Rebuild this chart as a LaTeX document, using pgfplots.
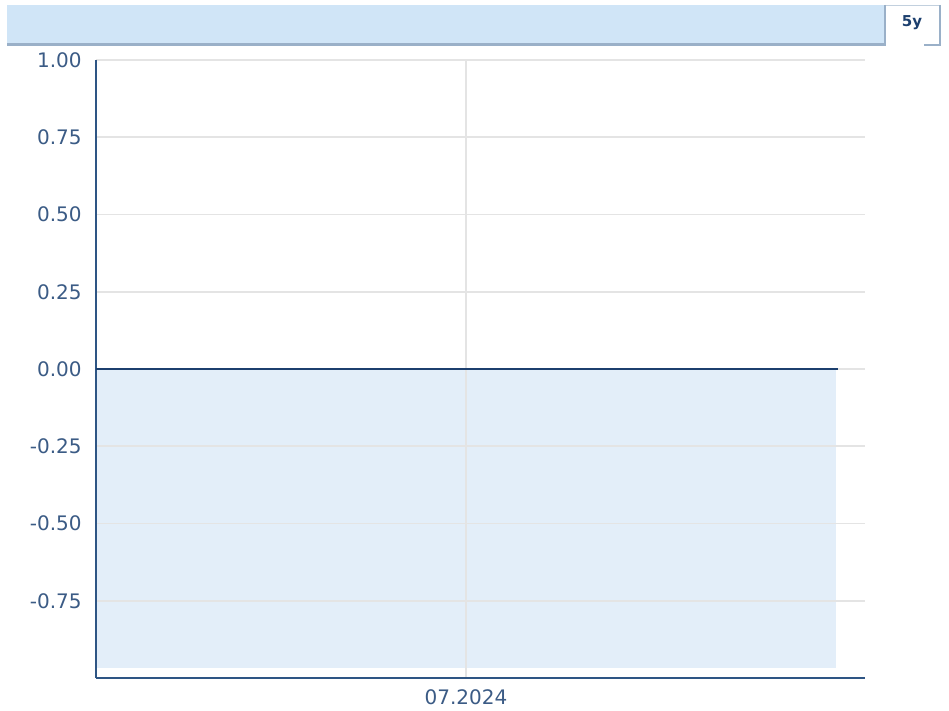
\documentclass[border=0pt]{standalone}
\usepackage{pgfplots}
\pgfplotsset{compat=1.18}
\usepackage{fontspec}
\setmainfont{DejaVu Sans}
\definecolor{barblue}{HTML}{D0E5F7}
\definecolor{barborder}{HTML}{9AB0C8}
\definecolor{fillblue}{HTML}{E3EEF9}
\definecolor{axisblue}{HTML}{2E5584}
\definecolor{lineblue}{HTML}{1C3F6E}
\definecolor{textblue}{HTML}{3B5B85}
\definecolor{gridgrey}{HTML}{E4E4E4}
\begin{document}
\begin{tikzpicture}
\path (0,0) rectangle (474.5pt,-355.5pt);
% top bar
\fill[barblue] (3.5pt,-2.5pt) rectangle (442.5pt,-22.5pt);
\draw[barborder, line width=1.5pt] (3.5pt,-22.5pt) -- (442.5pt,-22.5pt);
\draw[barborder, line width=1pt] (442.5pt,-2.5pt) -- (442.5pt,-23pt);
\fill[white] (443pt,-2.5pt) rectangle (470pt,-22.5pt);
\draw[barborder!60, line width=0.5pt] (443pt,-2.75pt) -- (469.75pt,-2.75pt);
\draw[barborder, line width=1pt] (470pt,-2.5pt) -- (470pt,-23pt);
\draw[barborder, line width=1pt] (462pt,-22.5pt) -- (470.5pt,-22.5pt);
\node[font=\bfseries\fontsize{7.5}{8}\selectfont, text=lineblue, inner sep=0pt] at (456pt,-11.5pt) {5y};
\begin{axis}[
  at={(48pt,-339pt)}, anchor=south west,
  scale only axis, width=384.5pt, height=309pt,
  set layers=standard,
  xmin=0, xmax=1.0392, ymin=-1, ymax=1,
  axis x line*=bottom, axis y line*=left,
  axis line style={color=axisblue, line width=1pt},
  xtick={0.5}, xticklabels={07.2024},
  ytick={-0.75,-0.5,-0.25,0,0.25,0.5,0.75,1},
  yticklabels={-0.75,-0.50,-0.25,0.00,0.25,0.50,0.75,1.00},
  major tick length=0pt,
  grid=major,
  major grid style={color=gridgrey, line width=0.85pt},
  tick label style={font=\fontsize{10}{12}\selectfont, text=textblue},
  yticklabel style={inner sep=0pt, xshift=-7pt},
  xticklabel style={inner sep=0pt, yshift=-5.5pt},
  /pgf/number format/assume math mode=true,
]
\addplot[on layer=axis background, fill=fillblue, draw=none] coordinates {(0,0) (1,0) (1,-0.967) (0,-0.967) (0,0)};
\addplot[lineblue, line width=1pt, mark=none] coordinates {(0,0) (1.003,0)};
\end{axis}
\end{tikzpicture}
\end{document}
